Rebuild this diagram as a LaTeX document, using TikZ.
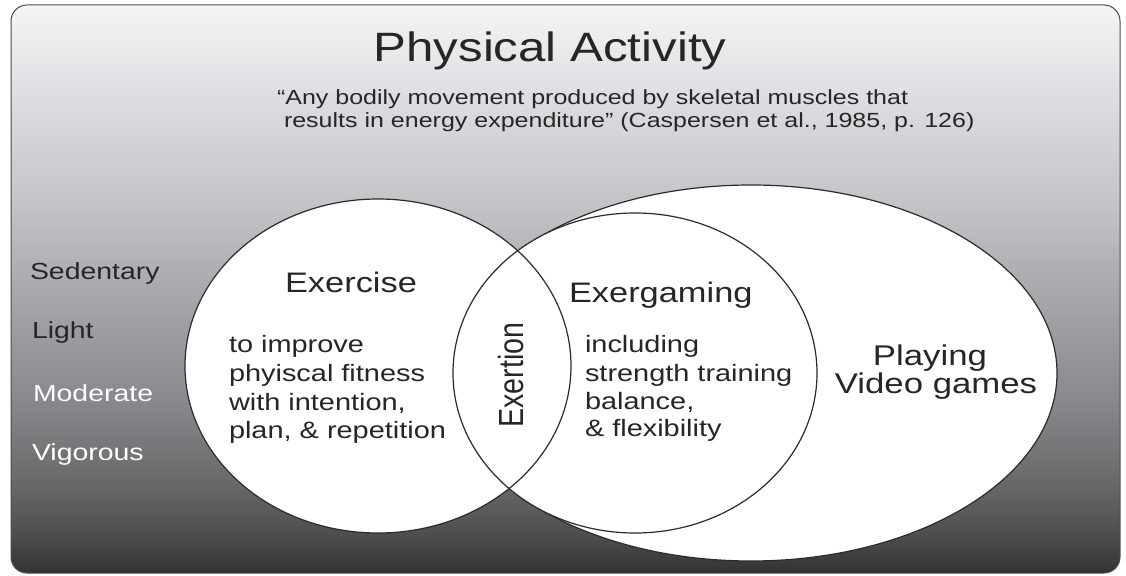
\documentclass[tikz,border=0pt]{standalone}
\usepackage{fontspec}
\setmainfont{Liberation Sans}
\definecolor{bgA}{HTML}{F5F5F7}
\definecolor{bgB}{HTML}{DCDDE0}
\definecolor{bgC}{HTML}{C4C5C9}
\definecolor{bgD}{HTML}{A5A6AA}
\definecolor{bgE}{HTML}{88898C}
\definecolor{bgF}{HTML}{6A6A6C}
\definecolor{bgG}{HTML}{4C4A4C}
\definecolor{bgH}{HTML}{333133}
\definecolor{txtcol}{HTML}{262626}
\definecolor{linecol}{HTML}{2B2B2B}
\definecolor{bordercol}{HTML}{4A4A4A}
\pgfdeclareverticalshading{bgshade}{100bp}{color(0bp)=(bgH); color(25bp)=(bgH); color(27.91bp)=(bgG); color(33.19bp)=(bgF); color(40.23bp)=(bgE); color(49.03bp)=(bgD); color(57.83bp)=(bgC); color(66.64bp)=(bgB); color(75bp)=(bgA); color(100bp)=(bgA)}
\tikzset{
  txt/.style={inner sep=0pt, outer sep=0pt, text=txtcol, xscale=1.22},
  titlefont/.style={font=\fontsize{41bp}{49bp}\selectfont},
  quotefont/.style={font=\fontsize{20.5bp}{23bp}\selectfont},
  levelfont/.style={font=\fontsize{23.3bp}{28bp}\selectfont},
  headfont/.style={font=\fontsize{28.2bp}{34bp}\selectfont},
  bodyfont/.style={font=\fontsize{23.7bp}{29bp}\selectfont},
  venn/.style={draw=linecol, line width=1.2bp},
}
\begin{document}
\begin{tikzpicture}[x=1bp,y=-1bp]
\useasboundingbox (0,0) rectangle (1126,576);
% background panel
\path[shading=bgshade, draw=bordercol, line width=1bp, rounded corners=16bp] (11,5) rectangle (1120,573);
% centres
\coordinate (cVG) at (751,373);
\coordinate (cEX) at (378,366);
\coordinate (cEG) at (635,373);
% Playing video games ellipse
\path[fill=white, venn] (cVG) ellipse [x radius=306bp, y radius=188bp];
% exercise and exergaming circles
\fill[white] (cEX) ellipse [x radius=193bp, y radius=167bp];
\fill[white] (cEG) ellipse [x radius=182bp, y radius=160bp];
\draw[venn] (cEX) ellipse [x radius=193bp, y radius=167bp];
\draw[venn] (cEG) ellipse [x radius=182bp, y radius=160bp];
% title and quote
\node[txt, xscale=0.984, titlefont, anchor=base] (title) at (550,62) {Physical Activity};
\node[txt, quotefont, anchor=base west] (q1) at (277,105) {“Any bodily movement produced by skeletal muscles that};
\node[txt, quotefont, anchor=base west] (q2) at (284,128) {results in energy expenditure” (Caspersen et al., 1985, p. 126)};
% intensity levels
\node[txt, levelfont, anchor=base west] (sed) at (30,280) {Sedentary};
\node[txt, levelfont, anchor=base west] (lig) at (32,338) {Light};
\node[txt, levelfont, anchor=base west, text=white] (mod) at (33,401) {Moderate};
\node[txt, levelfont, anchor=base west, text=white] (vig) at (32,460) {Vigorous};
% exercise
\node[txt, headfont, anchor=base] (exh) at (351,293) {Exercise};
\node[txt, bodyfont, anchor=base west] (ex1) at (229,352) {to improve};
\node[txt, bodyfont, anchor=base west] (ex2) at (229,381) {phyiscal fitness};
\node[txt, bodyfont, anchor=base west] (ex3) at (229,410) {with intention,};
\node[txt, bodyfont, anchor=base west] (ex4) at (229,438) {plan, \& repetition};
% exergaming
\node[txt, headfont, anchor=base west] (egh) at (569,303) {Exergaming};
\node[txt, bodyfont, anchor=base west] (eg1) at (585,352) {including};
\node[txt, bodyfont, anchor=base west] (eg2) at (585,381) {strength training};
\node[txt, bodyfont, anchor=base west] (eg3) at (585,409) {balance,};
\node[txt, bodyfont, anchor=base west] (eg4) at (585,436) {\& flexibility};
% exertion
\node[txt, font=\fontsize{28.6bp}{34bp}\selectfont, rotate=90] (exert) at (511,375) {Exertion};
% playing video games
\node[txt, font=\fontsize{28.5bp}{34bp}\selectfont, anchor=base] (pl1) at (930,365) {Playing};
\node[txt, font=\fontsize{28.5bp}{34bp}\selectfont, anchor=base] (pl2) at (936,393) {Video games};
\end{tikzpicture}
\end{document}
